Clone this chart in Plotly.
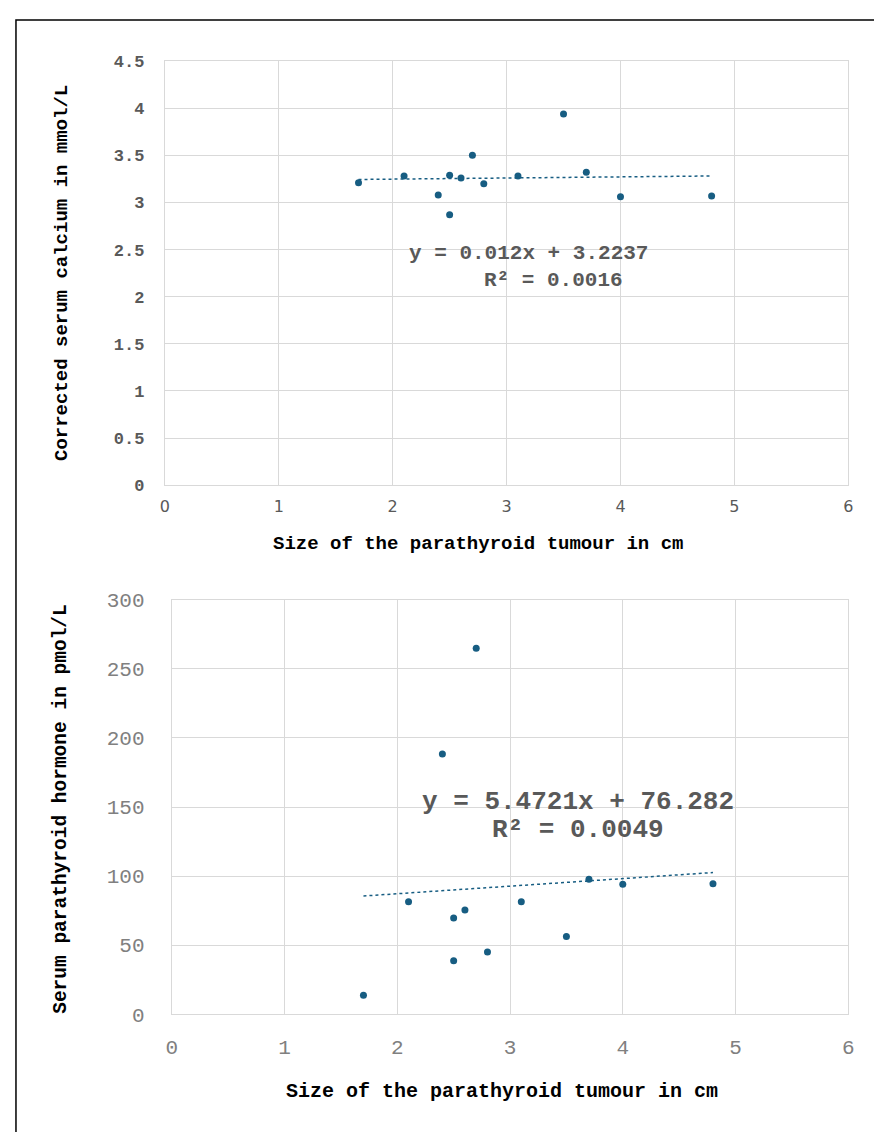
import plotly.graph_objects as go

# ---- data ----
size_cm = [1.7, 2.1, 2.4, 2.5, 2.5, 2.6, 2.7, 2.8, 3.1, 3.5, 3.7, 4.0, 4.8]
calcium_mmol = [3.21, 3.28, 3.08, 3.29, 2.87, 3.26, 3.50, 3.20, 3.28, 3.94, 3.32, 3.06, 3.07]
pth_size_cm = [1.7, 2.1, 2.4, 2.5, 2.5, 2.6, 2.7, 2.8, 3.1, 3.5, 3.7, 4.0, 4.8]
pth_pmol = [13.7, 81.4, 188.4, 69.6, 38.7, 75.5, 264.9, 45.1, 81.4, 56.2, 97.7, 94.0, 94.4]

ca_slope, ca_intercept, ca_r2 = 0.012, 3.2237, 0.0016
pth_slope, pth_intercept, pth_r2 = 5.4721, 76.282, 0.0049

x_title = "Size of the parathyroid tumour in cm"
ca_title = "Corrected serum calcium in mmol/L"
pth_title = "Serum parathyroid hormone in pmol/L"

# ---- figure ----
BODY = 8  # default page body margin
W, H = 866, 1124  # page = 882x1140 with the body margin
MONO = "Courier New, Liberation Mono, monospace"
SANS = "Verdana, DejaVu Sans, sans-serif"
MARK = "#175d82"
GRID = "#d9d9d9"


def px(x):
    return (x - BODY) / W


def py(y):
    return 1 - (y - BODY) / H


fig = go.Figure()

# top scatter + trend
fig.add_trace(go.Scatter(x=size_cm, y=calcium_mmol, mode="markers",
                         marker=dict(color=MARK, size=7), xaxis="x", yaxis="y",
                         showlegend=False))
tx = [min(size_cm), max(size_cm)]
fig.add_trace(go.Scatter(x=tx, y=[ca_slope * v + ca_intercept for v in tx], mode="lines",
                         line=dict(color=MARK, width=1.5, dash="dot"), xaxis="x", yaxis="y",
                         showlegend=False))

# bottom scatter + trend
fig.add_trace(go.Scatter(x=pth_size_cm, y=pth_pmol, mode="markers",
                         marker=dict(color=MARK, size=7), xaxis="x2", yaxis="y2",
                         showlegend=False))
bx = [min(pth_size_cm), max(pth_size_cm)]
fig.add_trace(go.Scatter(x=bx, y=[pth_slope * v + pth_intercept for v in bx], mode="lines",
                         line=dict(color=MARK, width=1.5, dash="dot"), xaxis="x2", yaxis="y2",
                         showlegend=False))

common = dict(showgrid=True, gridcolor=GRID, gridwidth=1, zeroline=False,
              showline=True, linecolor=GRID, linewidth=1, mirror=True, ticks="")

fig.update_layout(
    width=W, height=H, margin=dict(l=0, r=0, t=0, b=0),
    paper_bgcolor="white", plot_bgcolor="white",
    xaxis=dict(domain=[px(161), px(854)], range=[0, 6], dtick=1, anchor="y",
               tickfont=dict(family=SANS, size=16, color="#595959"),
               ticklabelstandoff=7, **common),
    yaxis=dict(domain=[py(485), py(52)], range=[0, 4.5], dtick=0.5, anchor="x",
               tickfont=dict(family=MONO, size=17, color="#595959", weight="bold"),
               ticklabelstandoff=16, **common),
    xaxis2=dict(domain=[px(168), px(854)], range=[0, 6], dtick=1, anchor="y2",
                tickfont=dict(family=MONO, size=21, color="#808080"),
                ticklabelstandoff=14, **common),
    yaxis2=dict(domain=[py(1025), py(602)], range=[0, 300], dtick=50, anchor="x2",
                tickfont=dict(family=MONO, size=21, color="#808080"),
                ticklabelstandoff=22, **common),
)


def note(text, x, y, size, color, angle=0):
    return dict(text=text, x=px(x), y=py(y), xref="paper", yref="paper",
                xanchor="center", yanchor="middle", showarrow=False, textangle=angle,
                font=dict(family=MONO, size=size, color=color))


ann = [
    note(f"<b>{x_title}</b>", 479, 545, 19, "#000000"),
    note(f"<b>{ca_title}</b>", 56, 268, 19, "#000000", -90),
    note(f"<b>{x_title}</b>", 503, 1104, 20, "#000000"),
    note(f"<b>{pth_title}</b>", 56, 815, 19.5, "#000000", -90),
    note(f"<b>y = {ca_slope}x + {ca_intercept}</b>", 530, 248, 21, "#595959"),
    note(f"<b>R² = {ca_r2:.4f}</b>", 555, 276, 21, "#595959"),
    note(f"<b>y = {pth_slope}x + {pth_intercept}</b>", 580, 808, 26, "#595959"),
    note(f"<b>R² = {pth_r2:.4f}</b>", 580, 837, 26, "#595959"),
]
fig.update_layout(annotations=ann)

# outer frame (left and top edges visible)
fig.add_shape(type="rect", xref="paper", yref="paper",
              x0=px(10), x1=1.2, y0=-0.2, y1=py(10),
              line=dict(color="#000000", width=1.5), fillcolor="rgba(0,0,0,0)")

fig.write_html("out.html", config={"displayModeBar": False})
